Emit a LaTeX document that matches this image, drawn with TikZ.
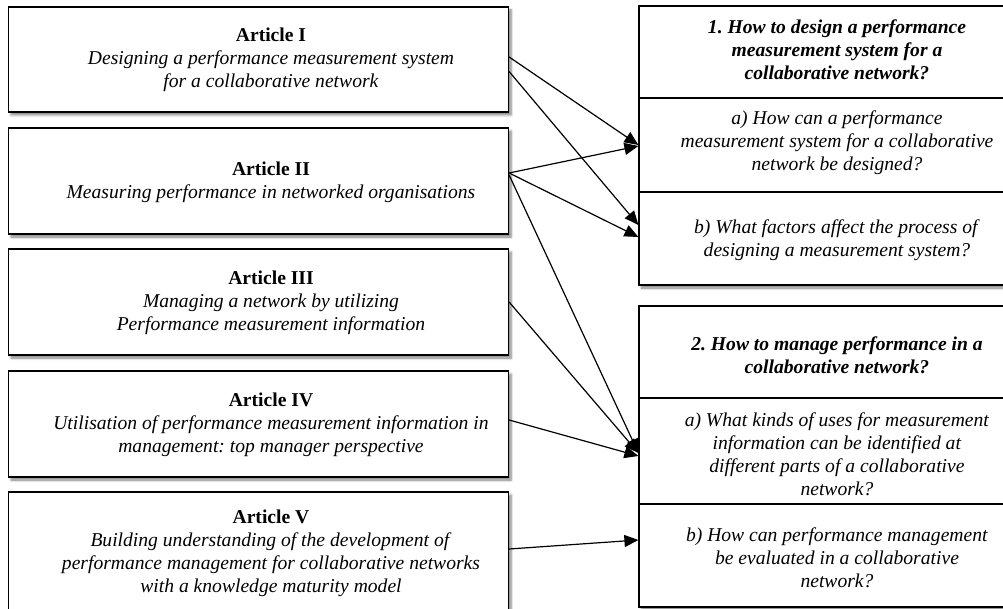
\documentclass[tikz,border=0pt]{standalone}
\usepackage{fontspec}
\setmainfont{Liberation Serif}
\frenchspacing
\usetikzlibrary{arrows.meta,shadows.blur}
\tikzset{
  abox/.style={draw=black, line width=1.2pt, fill=white, rectangle, minimum width=500pt, inner sep=0pt,
    blur shadow={shadow xshift=2.5pt, shadow yshift=-3pt, shadow blur steps=6, shadow blur radius=2.5pt, shadow opacity=50}},
  qbox/.style={draw=black, line width=1.2pt, fill=white, rectangle, minimum width=396pt, inner sep=0pt},
  qshadow/.style={blur shadow={shadow xshift=2.5pt, shadow yshift=-3pt, shadow blur steps=6, shadow blur radius=2.5pt, shadow opacity=50}},
  txt/.style={align=center, font=\fontsize{19.6}{23}\selectfont, inner sep=0pt},
  arr/.style={line width=1.2pt, -{Triangle[length=14pt,width=12pt]}},
}
\begin{document}
\begin{tikzpicture}[x=1pt,y=-1pt]
\useasboundingbox (0,0) rectangle (1003,609);
\clip (0,0) rectangle (1003,609);
% left boxes
\node[abox, minimum height=105pt] (a1) at (258.5,59.5) {};
\node[abox, minimum height=106pt] (a2) at (258.5,181) {};
\node[abox, minimum height=106pt] (a3) at (258.5,302) {};
\node[abox, minimum height=106pt] (a4) at (258.5,424) {};
\node[abox, minimum height=123pt] (a5) at (258.5,553.5) {};
\node[txt] (a1t) at (271,60) {\textbf{Article I}\\\textit{Designing a performance measurement system}\\\textit{for a collaborative network}};
\node[txt] (a2t) at (271,182) {\textbf{Article II}\\\textit{Measuring performance in networked organisations}};
\node[txt] (a3t) at (271,303) {\textbf{Article III}\\\textit{Managing a network by utilizing}\\\textit{Performance measurement information}};
\node[txt] (a4t) at (271,425) {\textbf{Article IV}\\\textit{Utilisation of performance measurement information in}\\\textit{management: top manager perspective}};
\node[txt] (a5t) at (271,553) {\textbf{Article V}\\\textit{Building understanding of the development of}\\\textit{performance management for collaborative networks}\\\textit{with a knowledge maturity model}};
% right shadows
\node[qbox, qshadow, draw=none, minimum height=279pt] (q1s) at (837,145.5) {};
\node[qbox, qshadow, draw=none, minimum height=301pt] (q2s) at (837,456.5) {};
% right boxes
\node[qbox, minimum height=92pt] (q1) at (837,52) {};
\node[qbox, minimum height=94pt] (q1a) at (837,145) {};
\node[qbox, minimum height=93pt] (q1b) at (837,238.5) {};
\node[qbox, minimum height=92pt] (q2) at (837,352) {};
\node[qbox, minimum height=106pt] (q2a) at (837,451) {};
\node[qbox, minimum height=103pt] (q2b) at (837,555.5) {};
\node[txt] (q1t) at (837,50) {\textbf{\textit{1. How to design a performance}}\\\textbf{\textit{measurement system for a}}\\\textbf{\textit{collaborative network?}}};
\node[txt] (q1at) at (837,143) {\textit{a) How can a performance}\\\textit{measurement system for a collaborative}\\\textit{network be designed?}};
\node[txt] (q1bt) at (837,240) {\textit{b) What factors affect the process of}\\\textit{designing a measurement system?}};
\node[txt] (q2t) at (837,355) {\textbf{\textit{2. How to manage performance in a}}\\\textbf{\textit{collaborative network?}}};
\node[txt] (q2at) at (837,454) {\textit{a) What kinds of uses for measurement}\\\textit{information can be identified at}\\\textit{different parts of a collaborative}\\\textit{network?}};
\node[txt] (q2bt) at (837,558) {\textit{b) How can performance management}\\\textit{be evaluated in a collaborative}\\\textit{network?}};
% connectors
\draw[arr] ([yshift=2.5pt]a1.east) -- (q1a.west);
\draw[arr] ([yshift=-12pt]a1.east) -- ([yshift=13.5pt]q1b.west);
\draw[arr] ([yshift=8pt]a2.east) -- ([yshift=-1pt]q1a.west);
\draw[arr] ([yshift=8pt]a2.east) -- ([yshift=1.5pt]q1b.west);
\draw[arr] ([yshift=6pt]a2.east) -- ([yshift=-2pt]q2a.west);
\draw[arr] (a3.east) -- ([yshift=-2pt]q2a.west);
\draw[arr] ([yshift=4pt]a4.east) -- ([yshift=-5pt]q2a.west);
\draw[arr] ([yshift=4.5pt]a5.east) -- ([yshift=15.5pt]q2b.west);
\end{tikzpicture}
\end{document}
